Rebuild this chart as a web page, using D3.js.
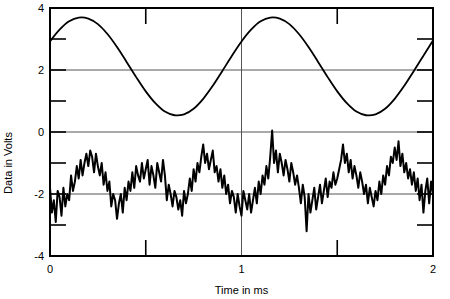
<!DOCTYPE html>
<html>
<head>
<meta charset="utf-8">
<script src="https://cdn.jsdelivr.net/npm/d3@7"></script>
<style>
  html, body { margin: 0; padding: 0; background: #fff; }
  svg { display: block; }
  text { font-family: "Liberation Sans", Arial, Helvetica, sans-serif; fill: #000; }
</style>
</head>
<body>
<div id="root"></div>
<script>
// time axis (ms) for the sine trace, 0.05 ms steps
const sineTime = d3.range(41).map(i => i * 0.05);
// upper trace, volts
const sineValues = [
  2.92, 3.30, 3.57, 3.69, 3.66, 3.48, 3.16, 2.74, 2.26, 1.77,
  1.31, 0.93, 0.66, 0.54, 0.57, 0.75, 1.07, 1.49, 1.97, 2.46,
  2.92, 3.30, 3.57, 3.69, 3.66, 3.48, 3.16, 2.74, 2.26, 1.77,
  1.31, 0.93, 0.66, 0.54, 0.57, 0.75, 1.07, 1.49, 1.97, 2.46,
  2.95
];

// time axis for the noisy trace, 0.01 ms steps
const noiseTime = d3.range(201).map(i => i * 0.01);
// lower trace, volts
const noiseValues = [
  -1.8, -2.6, -2.2, -2.9, -1.9, -2.1, -2.7, -1.8, -2.4, -2.0,
  -2.2, -1.4, -1.9, -1.6, -1.1, -1.5, -0.9, -1.4, -1.0, -0.7,
  -1.1, -0.6, -0.8, -1.3, -0.7, -1.1, -1.4, -1.0, -1.7, -1.3,
  -1.9, -1.6, -2.4, -2.0, -2.2, -2.8, -2.3, -2.0, -2.6, -1.8,
  -2.2, -1.6, -1.9, -1.3, -1.8, -1.1, -1.4, -1.6, -1.0, -1.5,
  -1.2, -0.9, -1.7, -1.1, -1.4, -1.8, -1.0, -1.3, -1.6, -0.9,
  -1.4, -2.2, -1.7, -2.0, -2.4, -1.9, -2.1, -2.5, -2.2, -2.7,
  -1.9, -2.3, -2.0, -1.5, -1.9, -1.2, -1.6, -1.0, -1.3, -0.8,
  -0.4, -1.0, -0.7, -1.2, -0.9, -0.6, -1.3, -1.1, -1.6, -1.2,
  -1.8, -1.4, -2.0, -1.7, -2.3, -1.9, -2.1, -2.6, -2.0, -2.4,
  -2.7, -1.9, -2.2, -2.5, -2.0, -2.6, -2.2, -1.8, -2.3, -1.6,
  -2.0, -1.4, -1.7, -1.1, -1.5, -0.8, 0.05, -1.0, -0.6, -1.3,
  -0.7, -1.0, -1.4, -0.9, -1.2, -1.6, -1.0, -1.3, -1.7, -1.4,
  -1.8, -2.3, -1.7, -2.1, -3.2, -2.0, -2.6, -2.2, -1.8, -2.5,
  -2.1, -1.7, -2.3, -1.9, -1.5, -2.1, -1.6, -1.8, -1.3, -1.7,
  -1.5, -1.2, -0.9, -0.4, -1.0, -0.7, -1.3, -0.9, -1.5, -1.1,
  -1.4, -1.8, -1.3, -1.6, -2.0, -1.7, -2.3, -1.8, -2.1, -2.4,
  -1.9, -2.2, -1.6, -2.0, -1.4, -1.7, -1.1, -1.4, -0.8, -1.0,
  -0.5, -0.9, -0.3, -1.1, -0.7, -1.3, -1.0, -1.5, -1.2, -1.7,
  -1.3, -1.9, -1.5, -2.2, -1.7, -2.6, -1.9, -1.5, -2.3, -1.6,
  -2.0
];

const xTicks = [0, 1, 2];
const xMinorTicks = [0.5, 1.5];
const yTicks = [4, 2, 0, -2, -4];
const yMinorTicks = [3, 1, -1, -3];
const yGrid = [2, 0, -2];
const xGrid = [1];

(function () {
  const width = 450, height = 299;
  const plotL = 50, plotR = 433, plotT = 8, plotB = 256;
  const tickLen = 16;

  const x = d3.scaleLinear().domain([0, 2]).range([plotL, plotR]);
  const y = d3.scaleLinear().domain([-4, 4]).range([plotB, plotT]);

  const svg = d3.select("#root").append("svg")
    .attr("width", width)
    .attr("height", height);

  // grid lines
  svg.append("g").selectAll("line").data(yGrid).join("line")
    .attr("x1", plotL).attr("x2", plotR)
    .attr("y1", d => y(d)).attr("y2", d => y(d))
    .attr("stroke", "#555").attr("stroke-width", 1);
  svg.append("g").selectAll("line").data(xGrid).join("line")
    .attr("x1", d => x(d)).attr("x2", d => x(d))
    .attr("y1", plotT).attr("y2", plotB)
    .attr("stroke", "#555").attr("stroke-width", 1);

  // inward tick marks on all four sides
  const yAll = yTicks.concat(yMinorTicks).filter(d => d > -4 && d < 4);
  const ticks = svg.append("g").attr("stroke", "#000").attr("stroke-width", 1.6);
  ticks.append("g").selectAll("line").data(yAll).join("line")
    .attr("x1", plotL).attr("x2", plotL + tickLen)
    .attr("y1", d => y(d)).attr("y2", d => y(d));
  ticks.append("g").selectAll("line").data(yAll).join("line")
    .attr("x1", plotR - tickLen).attr("x2", plotR)
    .attr("y1", d => y(d)).attr("y2", d => y(d));
  ticks.append("g").selectAll("line").data(xMinorTicks).join("line")
    .attr("x1", d => x(d)).attr("x2", d => x(d))
    .attr("y1", plotT).attr("y2", plotT + tickLen);
  ticks.append("g").selectAll("line").data(xMinorTicks).join("line")
    .attr("x1", d => x(d)).attr("x2", d => x(d))
    .attr("y1", plotB - tickLen).attr("y2", plotB);

  // traces
  const sineLine = d3.line()
    .x((d, i) => x(sineTime[i]))
    .y(d => y(d))
    .curve(d3.curveCatmullRom);
  svg.append("path")
    .attr("d", sineLine(sineValues))
    .attr("fill", "none").attr("stroke", "#000").attr("stroke-width", 1.8);

  const noiseLine = d3.line()
    .x((d, i) => x(noiseTime[i]))
    .y(d => y(d));
  svg.append("path")
    .attr("d", noiseLine(noiseValues))
    .attr("fill", "none").attr("stroke", "#000").attr("stroke-width", 2)
    .attr("stroke-linejoin", "round");

  // frame
  svg.append("rect")
    .attr("x", plotL).attr("y", plotT)
    .attr("width", plotR - plotL).attr("height", plotB - plotT)
    .attr("fill", "none").attr("stroke", "#000").attr("stroke-width", 2);

  // tick labels
  svg.append("g").selectAll("text").data(yTicks).join("text")
    .attr("x", plotL - 6).attr("y", d => y(d) + 4)
    .attr("text-anchor", "end").attr("font-size", 11)
    .text(d => d);
  svg.append("g").selectAll("text").data(xTicks).join("text")
    .attr("x", d => x(d)).attr("y", 273)
    .attr("text-anchor", "middle").attr("font-size", 11)
    .text(d => d);

  // axis titles
  svg.append("text")
    .attr("x", x(1)).attr("y", 294)
    .attr("text-anchor", "middle").attr("font-size", 11)
    .text("Time in ms");
  svg.append("text")
    .attr("transform", "translate(12,163) rotate(-90)")
    .attr("text-anchor", "middle").attr("font-size", 11)
    .text("Data in Volts");
})();
</script>
</body>
</html>
